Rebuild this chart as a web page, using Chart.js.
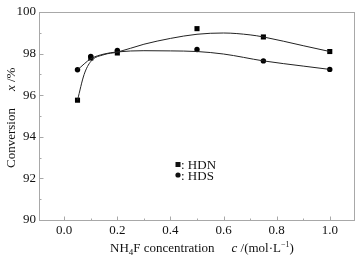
<!DOCTYPE html>
<html><head><meta charset="utf-8">
<script src="https://cdn.jsdelivr.net/npm/chart.js@4/dist/chart.umd.min.js"></script>
<style>html,body{margin:0;padding:0;background:#fff}#wrap{width:362px;height:259px}</style>
</head><body><div id="wrap"><canvas id="c" width="362" height="259"></canvas></div>
<script>
const concentrations = [0.05, 0.1, 0.2, 0.5, 0.75, 1.0];
const hdnValues = [95.76, 97.79, 98.03, 99.2, 98.8, 98.1];
const hdsValues = [97.22, 97.86, 98.15, 98.2, 97.65, 97.24];
const hdnFitX = [0.05, 0.075, 0.1, 0.15, 0.2, 0.3, 0.4, 0.5, 0.6, 0.7, 0.75, 0.9, 1.0];
const hdnFitY = [95.76, 97.0, 97.62, 97.95, 98.07, 98.45, 98.73, 98.93, 98.99, 98.9, 98.8, 98.38, 98.1];
const hdsFitX = [0.05, 0.1, 0.15, 0.2, 0.3, 0.4, 0.5, 0.6, 0.75, 0.9, 1.0];
const hdsFitY = [97.22, 97.75, 97.98, 98.08, 98.14, 98.13, 98.1, 97.98, 97.65, 97.4, 97.24];
const xMajorTicks = [0.0, 0.2, 0.4, 0.6, 0.8, 1.0];
const xMinorTicks = [-0.1, 0.1, 0.3, 0.5, 0.7, 0.9, 1.1];
const yMajorTicks = [90, 92, 94, 96, 98, 100];
const yMinorTicks = [91, 93, 95, 97, 99];

const pts = (xs, ys) => xs.map((x, i) => ({x, y: ys[i]}));
const FONT = '"Liberation Serif", "Times New Roman", serif';
const GRAY = '#a8a8a8';

const framePlugin = {
  id: 'frame',
  beforeDatasetsDraw(chart) {
    const {ctx, chartArea: a, scales} = chart;
    ctx.save();
    ctx.strokeStyle = GRAY;
    ctx.lineWidth = 1;
    ctx.strokeRect(Math.round(a.left) + 0.5, Math.round(a.top) + 0.5, Math.round(a.right - a.left) - 1, Math.round(a.bottom - a.top));
    ctx.beginPath();
    const bx = Math.round(a.bottom) + 0.5;
    xMajorTicks.forEach(v => { const p = Math.round(scales.x.getPixelForValue(v)) + 0.5; ctx.moveTo(p, bx); ctx.lineTo(p, bx - 4); });
    xMinorTicks.forEach(v => { const p = Math.round(scales.x.getPixelForValue(v)) + 0.5; if (p > a.left + 1 && p < a.right - 1) { ctx.moveTo(p, bx); ctx.lineTo(p, bx - 2); } });
    const lx = Math.round(a.left) + 0.5;
    yMajorTicks.forEach(v => { const p = Math.round(scales.y.getPixelForValue(v)) + 0.5; ctx.moveTo(lx, p); ctx.lineTo(lx + 4, p); });
    yMinorTicks.forEach(v => { const p = Math.round(scales.y.getPixelForValue(v)) + 0.5; ctx.moveTo(lx, p); ctx.lineTo(lx + 2, p); });
    ctx.stroke();
    ctx.restore();
  },
  afterDraw(chart) {
    const {ctx} = chart;
    ctx.save();
    ctx.fillStyle = '#111';
    // x title
    ctx.textBaseline = 'alphabetic';
    ctx.textAlign = 'left';
    let x = 110, y = 252;
    const seg = (t, size, style, dy) => {
      ctx.font = (style || '') + ' ' + size + 'px ' + FONT;
      ctx.fillText(t, x, y + (dy || 0));
      x += ctx.measureText(t).width;
    };
    seg('NH', 13); seg('4', 9, '', 3); seg('F concentration', 13);
    x += 17;
    seg('c', 13, 'italic'); seg(' /(mol·L', 13); seg('−1', 8, '', -5); seg(')', 13);
    // y title
    ctx.save();
    ctx.translate(15, 168);
    ctx.rotate(-Math.PI / 2);
    x = 0; y = 0;
    seg('Conversion', 13);
    x += 17;
    seg('x', 13, 'italic'); seg(' /%', 13);
    ctx.restore();
    // legend
    ctx.font = '13px ' + FONT;
    ctx.fillRect(175.5, 162, 5, 5);
    ctx.fillText(': HDN', 181, 169);
    ctx.beginPath(); ctx.arc(178, 175, 2.6, 0, Math.PI * 2); ctx.fill();
    ctx.fillText(': HDS', 181, 180);
    ctx.restore();
  }
};

new Chart(document.getElementById('c'), {
  type: 'scatter',
  data: {
    datasets: [
      {label: 'HDN fit', data: pts(hdnFitX, hdnFitY), showLine: true, borderColor: '#222', borderWidth: 1, pointRadius: 0, cubicInterpolationMode: 'monotone', fill: false},
      {label: 'HDS fit', data: pts(hdsFitX, hdsFitY), showLine: true, borderColor: '#222', borderWidth: 1, pointRadius: 0, cubicInterpolationMode: 'monotone', fill: false},
      {label: 'HDN', data: pts(concentrations, hdnValues), pointStyle: 'rect', pointRadius: 3.6, backgroundColor: '#000', borderColor: '#000', borderWidth: 0},
      {label: 'HDS', data: pts(concentrations, hdsValues), pointStyle: 'circle', pointRadius: 2.7, backgroundColor: '#000', borderColor: '#000', borderWidth: 0}
    ]
  },
  options: {
    responsive: false,
    animation: false,
    layout: {padding: {top: 12, right: 7, left: 0, bottom: 0}},
    plugins: {legend: {display: false}, tooltip: {enabled: false}},
    scales: {
      x: {
        type: 'linear', min: -0.095, max: 1.095,
        afterBuildTicks: s => { s.ticks = xMajorTicks.map(v => ({value: v})); },
        afterFit: s => { s.height = 39; },
        grid: {display: false, drawTicks: false},
        border: {display: false},
        ticks: {padding: 3, color: '#111', font: {family: FONT, size: 13}, callback: v => v.toFixed(1), maxRotation: 0, autoSkip: false}
      },
      y: {
        type: 'linear', min: 90, max: 100,
        afterBuildTicks: s => { s.ticks = yMajorTicks.map(v => ({value: v})); },
        afterFit: s => { s.width = 39; },
        grid: {display: false, drawTicks: false},
        border: {display: false},
        ticks: {padding: 3, color: '#111', font: {family: FONT, size: 13}}
      }
    }
  },
  plugins: [framePlugin]
});
</script></body></html>
